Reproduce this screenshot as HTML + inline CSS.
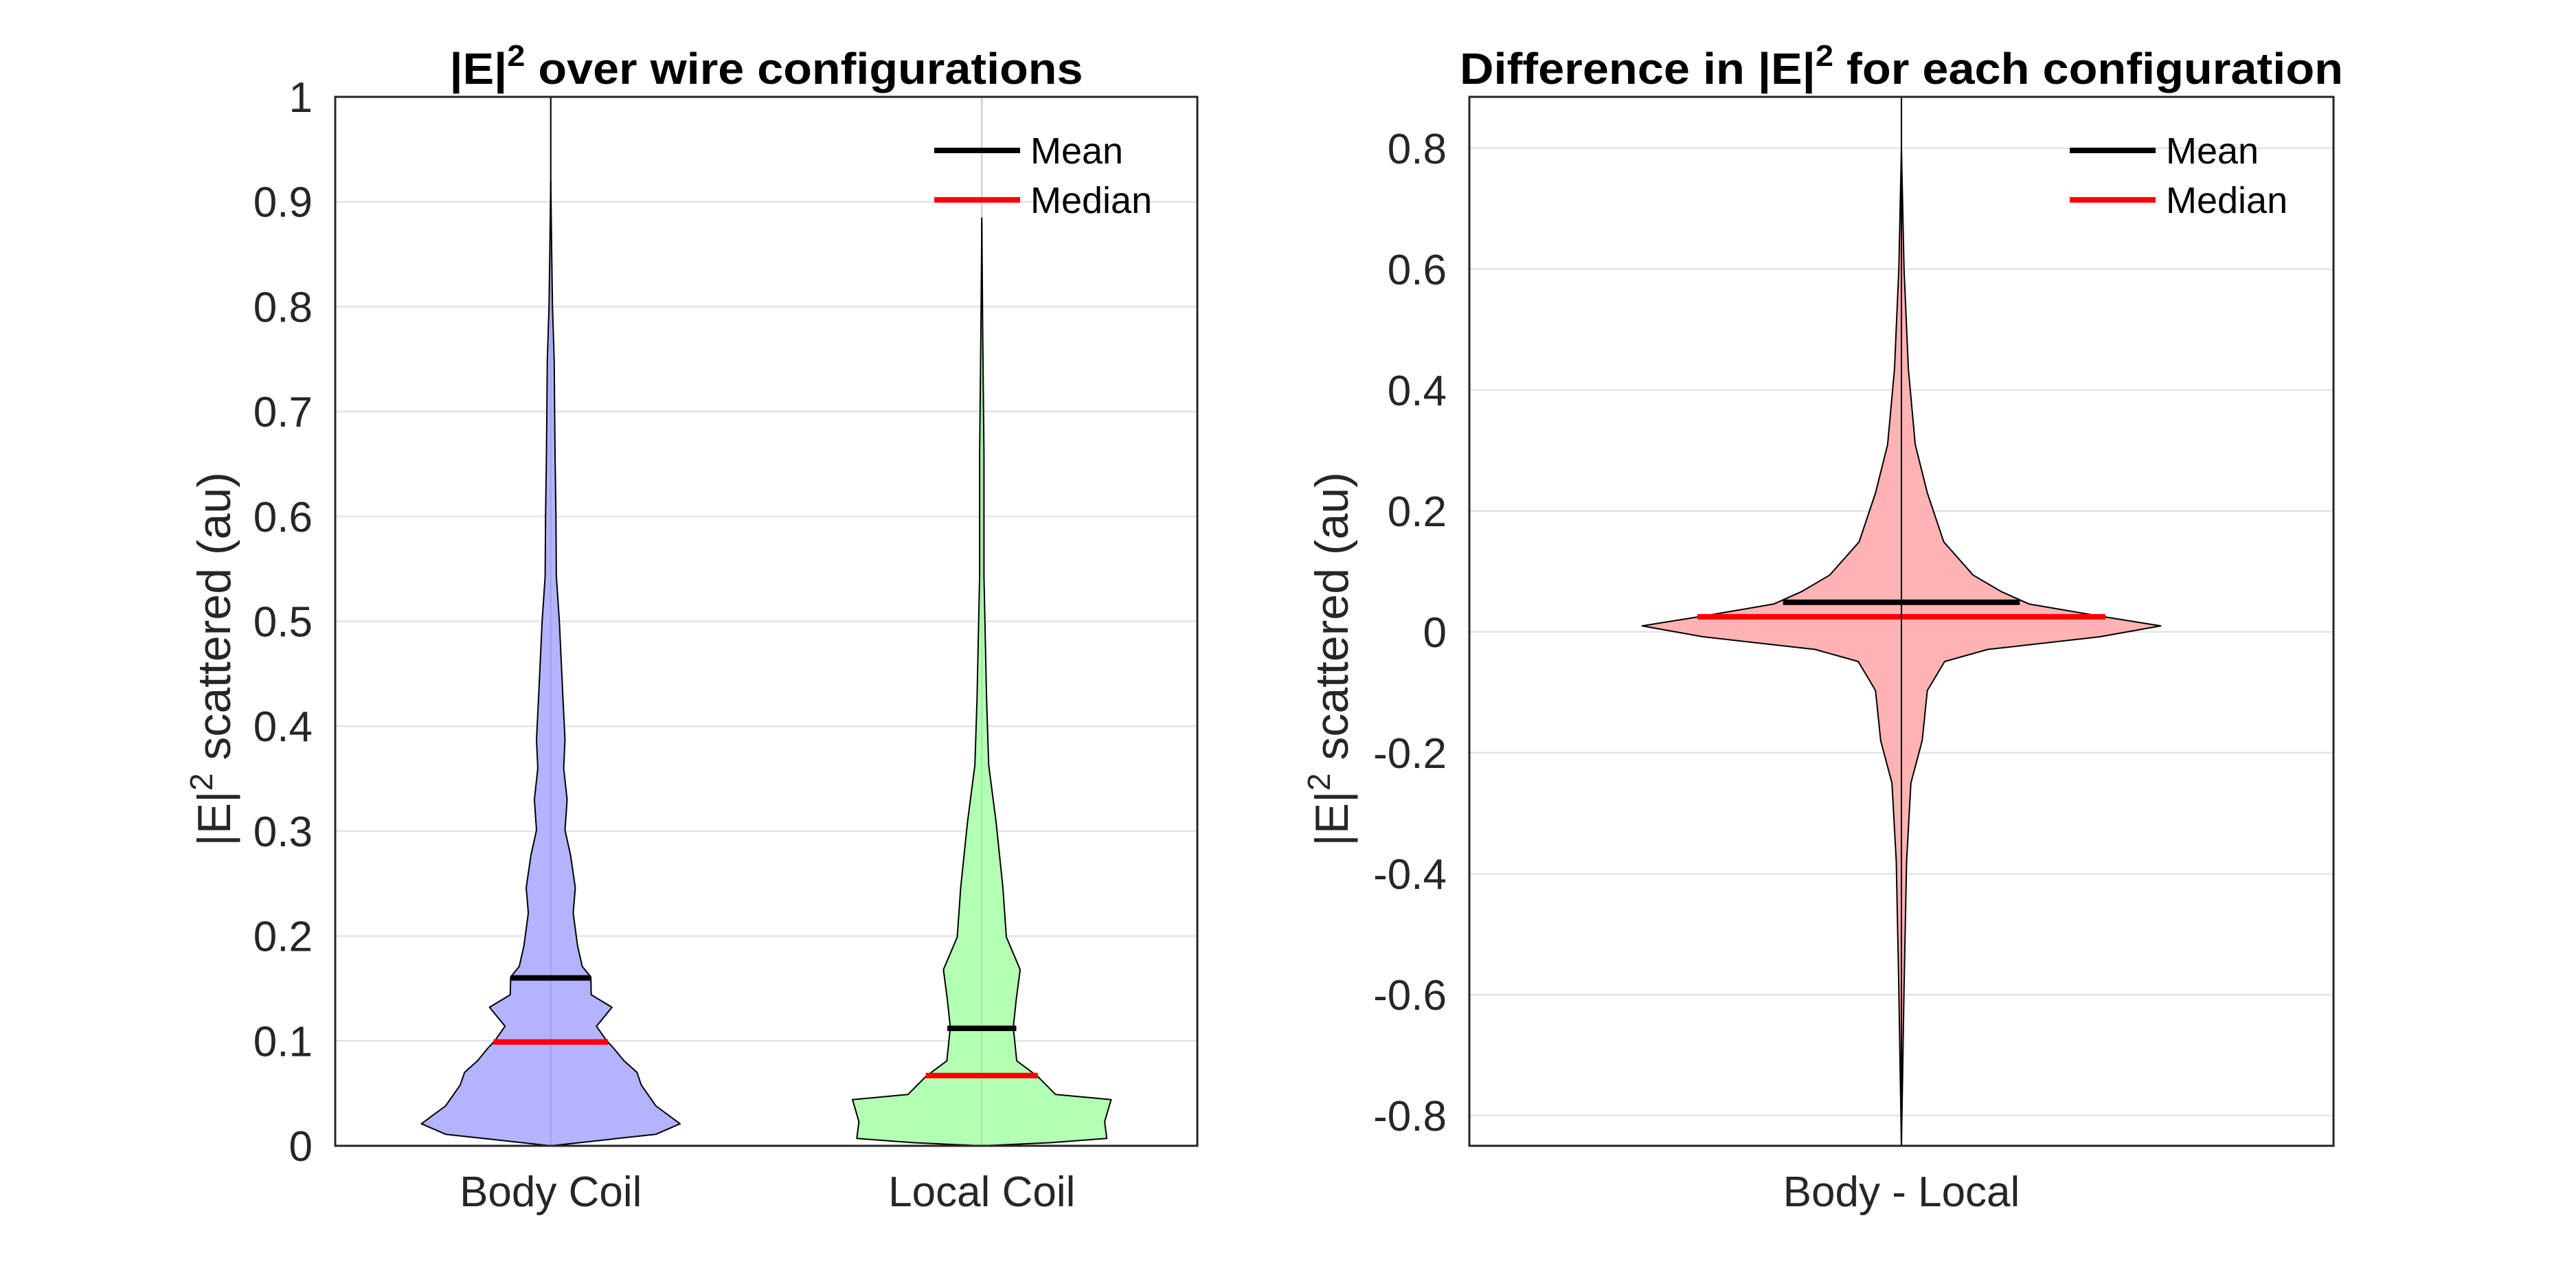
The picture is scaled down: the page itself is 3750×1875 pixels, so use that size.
<!DOCTYPE html>
<html><head><meta charset="utf-8"><style>
html,body{margin:0;padding:0;background:#fff;}
svg{display:block;font-family:"Liberation Sans",Arial,sans-serif;}
</style></head><body>
<svg id="fig" width="3750" height="1875" viewBox="0 0 3750 1875" xmlns="http://www.w3.org/2000/svg"></svg>
<script>
// ---- Data: left chart ----
const leftCategories = ["Body Coil", "Local Coil"];
const leftTicks = [0, 0.1, 0.2, 0.3, 0.4, 0.5, 0.6, 0.7, 0.8, 0.9, 1];
const leftTickLabels = ["0","0.1","0.2","0.3","0.4","0.5","0.6","0.7","0.8","0.9","1"];
const bodyValues = [0, 0.011, 0.021, 0.038, 0.058, 0.07, 0.081, 0.093, 0.1, 0.114, 0.132, 0.144, 0.161, 0.171, 0.191, 0.222, 0.246, 0.277, 0.301, 0.33, 0.36, 0.387, 0.43, 0.465, 0.5, 0.543, 0.6, 0.66, 0.7, 0.747, 0.8, 0.857, 0.92];
const bodyWidths = [0, 0.244, 0.3, 0.244, 0.21, 0.2, 0.17, 0.146, 0.13, 0.106, 0.142, 0.094, 0.093, 0.073, 0.062, 0.052, 0.057, 0.046, 0.033, 0.038, 0.03, 0.033, 0.028, 0.024, 0.02, 0.013, 0.012, 0.01, 0.009, 0.008, 0.004, 0.002, 0];
const localValues = [0, 0.003, 0.007, 0.023, 0.044, 0.049, 0.066, 0.081, 0.113, 0.14, 0.168, 0.199, 0.246, 0.309, 0.363, 0.426, 0.543, 0.66, 0.78, 0.88];
const localWidths = [0, 0.16, 0.29, 0.285, 0.3, 0.171, 0.13, 0.081, 0.073, 0.08, 0.089, 0.057, 0.049, 0.033, 0.016, 0.011, 0.005, 0.005, 0.002, 0];
const leftMeans = [0.16, 0.112];
const leftMedians = [0.099, 0.067];
const leftMeanHalf = [0.093, 0.08];
const leftMedianHalf = [0.133, 0.13];
// ---- Data: right chart ----
const rightCategories = ["Body - Local"];
const rightTicks = [-0.8, -0.6, -0.4, -0.2, 0, 0.2, 0.4, 0.6, 0.8];
const rightTickLabels = ["-0.8","-0.6","-0.4","-0.2","0","0.2","0.4","0.6","0.8"];
const diffValues = [-0.85, -0.59, -0.38, -0.25, -0.18, -0.097, -0.049, -0.029, -0.008, 0.01, 0.026, 0.046, 0.067, 0.094, 0.149, 0.23, 0.31, 0.435, 0.6, 0.8];
const diffWidths = [0, 0.003, 0.006, 0.011, 0.024, 0.03, 0.05, 0.1, 0.23, 0.3, 0.23, 0.148, 0.115, 0.083, 0.049, 0.03, 0.016, 0.008, 0.003, 0];
const rightMeans = [0.049];
const rightMedians = [0.025];
const rightMeanHalf = [0.137];
const rightMedianHalf = [0.236];

const NS = "http://www.w3.org/2000/svg";
const svg = document.getElementById("fig");
function mk(tag, attrs, parent) {
  const e = document.createElementNS(NS, tag);
  for (const k in attrs) e.setAttribute(k, attrs[k]);
  (parent || svg).appendChild(e);
  return e;
}

function drawPanel(cfg) {
  const g = mk("g", {});
  
  
  const X = v => cfg.x0 + (v - cfg.xmin) / (cfg.xmax - cfg.xmin) * (cfg.x1 - cfg.x0);
  const Y = v => cfg.y1 - (v - cfg.ymin) / (cfg.ymax - cfg.ymin) * (cfg.y1 - cfg.y0);
  const W = w => w * (cfg.x1 - cfg.x0) / (cfg.xmax - cfg.xmin);
  cfg.ticks.forEach((t, i) => {
    const l = mk("line", {x1: cfg.x0, x2: cfg.x1, y1: Y(t), y2: Y(t), stroke: "#e3e3e3", "stroke-width": 2.5}, g);
    
    
    const tx = mk("text", {x: cfg.x0 - 33, y: Y(t) + 22, "text-anchor": "end", "font-size": 62, fill: "#262626"}, g);
    tx.textContent = cfg.tickLabels[i];
    
    
  });
  cfg.categories.forEach((c, i) => {
    const l = mk("line", {x1: X(i + 1), x2: X(i + 1), y1: cfg.y0, y2: cfg.y1, stroke: "#e3e3e3", "stroke-width": 2.5}, g);
    
    
    const tx = mk("text", {x: X(i + 1), y: 1756, "text-anchor": "middle", "font-size": 62, fill: "#262626"}, g);
    tx.textContent = c;
    
    
  });
  cfg.violins.forEach((v, i) => {
    const cx = X(i + 1);
    if (v.line) {
      const wl = mk("line", {x1: cx, x2: cx, y1: Y(v.line[0]), y2: Y(v.line[1]), stroke: "#000", "stroke-width": 2}, g);
      
      
    }
    let pts = [];
    for (let k = 0; k < v.vals.length; k++) pts.push((cx + W(v.w[k])).toFixed(1) + "," + Y(v.vals[k]).toFixed(1));
    for (let k = v.vals.length - 1; k >= 0; k--) pts.push((cx - W(v.w[k])).toFixed(1) + "," + Y(v.vals[k]).toFixed(1));
    const p = mk("polygon", {points: pts.join(" "), fill: v.fill, stroke: "#000", "stroke-width": 2, "stroke-linejoin": "round"}, g);
    
    
    const gl = mk("line", {x1: cx, x2: cx, y1: cfg.y0, y2: cfg.y1, stroke: "rgba(0,0,0,0.08)", "stroke-width": 2.5}, g);
    
    
    const md = mk("line", {x1: cx - W(cfg.medHalf[i]), x2: cx + W(cfg.medHalf[i]), y1: Y(cfg.medians[i]), y2: Y(cfg.medians[i]), stroke: "#ff0000", "stroke-width": 8}, g);
    
    
    const mn = mk("line", {x1: cx - W(cfg.meanHalf[i]), x2: cx + W(cfg.meanHalf[i]), y1: Y(cfg.means[i]), y2: Y(cfg.means[i]), stroke: "#000", "stroke-width": 8}, g);
    
    
  });
  if (cfg.fullLine) {
    const fl = mk("line", {x1: X(1), x2: X(1), y1: cfg.y0, y2: cfg.y1, stroke: "#000", "stroke-width": 2}, g);
    
    
  }
  const box = mk("rect", {x: cfg.x0, y: cfg.y0, width: cfg.x1 - cfg.x0, height: cfg.y1 - cfg.y0, fill: "none", stroke: "#262626", "stroke-width": 3}, g);
  
  
  const lg = mk("g", {}, g);
  
  
  [["Mean", "#000", 219], ["Median", "#ff0000", 291]].forEach(e => {
    const l = mk("line", {x1: cfg.legX, x2: cfg.legX + 125, y1: e[2], y2: e[2], stroke: e[1], "stroke-width": 8}, lg);
    
    
    const t = mk("text", {x: cfg.legX + 140, y: e[2] + 19, "font-size": 54, fill: "#000"}, lg);
    t.textContent = e[0];
    
    
  });
  const tt = mk("text", {x: (cfg.x0 + cfg.x1) / 2, y: 122, "text-anchor": "middle", "font-size": 64, "font-weight": "bold", fill: "#000", textLength: cfg.titleLen, lengthAdjust: "spacingAndGlyphs"}, g);
  tt.innerHTML = cfg.titlePre + '|E|<tspan dy="-26" font-size="44">2</tspan><tspan dy="26">' + cfg.titlePost + '</tspan>';
  
  
  const yl = mk("text", {x: 0, y: 0, "text-anchor": "middle", "font-size": 68, fill: "#262626", transform: "translate(" + cfg.ylabX + "," + ((cfg.y0 + cfg.y1) / 2 + 55) + ") rotate(-90)"}, g);
  yl.innerHTML = '|E|<tspan dy="-26" font-size="46">2</tspan><tspan dy="26"> scattered (au)</tspan>';
  
  
}

drawPanel({
  name: "left-chart", x0: 488, x1: 1743, y0: 141, y1: 1668, xmin: 0.5, xmax: 2.5, ymin: 0, ymax: 1,
  ticks: leftTicks, tickLabels: leftTickLabels, categories: leftCategories,
  violins: [
    {vals: bodyValues, w: bodyWidths, fill: "#b3b3ff", line: [0.9, 1]},
    {vals: localValues, w: localWidths, fill: "#b3ffb3", line: [0.85, 0.885]}
  ],
  means: leftMeans, medians: leftMedians, meanHalf: leftMeanHalf, medHalf: leftMedianHalf,
  legX: 1360, titlePre: "", titlePost: " over wire configurations", titleLen: 922, ylabX: 335
});
drawPanel({
  name: "right-chart", x0: 2139, x1: 3397, y0: 141, y1: 1668, xmin: 0.5, xmax: 1.5, ymin: -0.85, ymax: 0.885,
  ticks: rightTicks, tickLabels: rightTickLabels, categories: rightCategories,
  violins: [{vals: diffValues, w: diffWidths, fill: "#ffb3b3"}],
  means: rightMeans, medians: rightMedians, meanHalf: rightMeanHalf, medHalf: rightMedianHalf,
  fullLine: true,
  legX: 3013, titlePre: "Difference in ", titlePost: " for each configuration", titleLen: 1286, ylabX: 1962
});
</script>
</body></html>
